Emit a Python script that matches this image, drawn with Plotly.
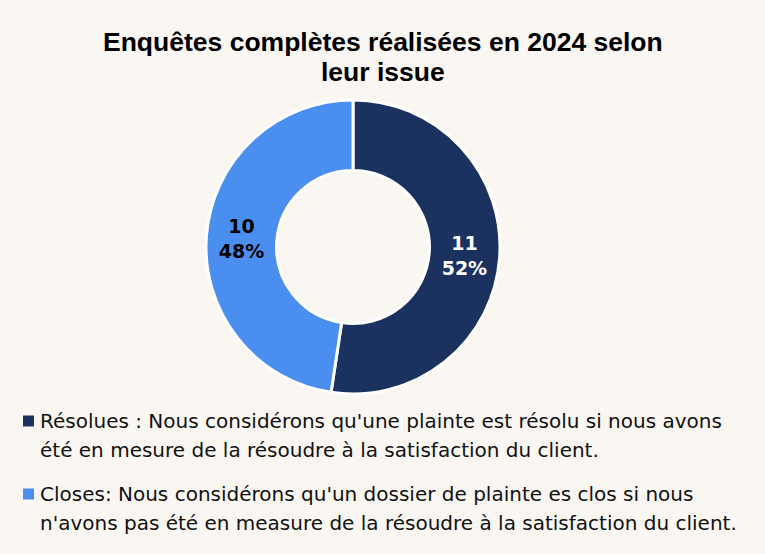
import plotly.graph_objects as go

# ---- data ----
categories = ["Résolues", "Closes"]
values = [11, 10]
colors = ["#1B3160", "#4A8FF0"]
text_colors = ["#FFFFFF", "#000000"]
title_lines = ["Enquêtes complètes réalisées en 2024 selon", "leur issue"]
legend_lines = [
    ["Résolues : Nous considérons qu'une plainte est résolu si nous avons",
     "été en mesure de la résoudre à la satisfaction du client."],
    ["Closes: Nous considérons qu'un dossier de plainte es clos si nous",
     "n'avons pas été en measure de la résoudre à la satisfaction du client."],
]

W, H = 765, 554
BG = "#FAF7F3"

fig = go.Figure()
fig.add_trace(go.Pie(
    labels=categories,
    values=values,
    hole=0.52,
    sort=False,
    direction="clockwise",
    rotation=0,
    marker=dict(colors=colors, line=dict(color="white", width=3)),
    texttemplate="<b>%{value}</b><br><b>%{percent:.0%}</b>",
    textposition="inside",
    insidetextorientation="horizontal",
    textfont=dict(family="DejaVu Sans, sans-serif", size=19, color=text_colors),
    domain=dict(x=[(353 - 147) / W, (353 + 147) / W],
                y=[(H - 247 - 147) / H, (H - 247 + 147) / H]),
    showlegend=False,
    hoverinfo="label+value+percent",
))

annotations = []
shapes = []

# title (two centred bold lines)
title_y = [42, 72]
for ln, ty in zip(title_lines, title_y):
    annotations.append(dict(
        text="<b>" + ln + "</b>", xref="paper", yref="paper",
        x=0.5, y=1 - ty / H, xanchor="center", yanchor="middle", showarrow=False,
        font=dict(family="Liberation Sans, Arial, sans-serif", size=26.5, color="#000000"),
    ))

# custom legend (square markers + wrapped text)
entry_tops = [421, 494]
line_gap = 29
for i, (lines, col) in enumerate(zip(legend_lines, colors)):
    y0 = entry_tops[i]
    shapes.append(dict(type="rect", xref="paper", yref="paper",
                       x0=23 / W, x1=34 / W,
                       y0=1 - (y0 + 5.5) / H, y1=1 - (y0 - 5.5) / H,
                       fillcolor=col, line=dict(width=0)))
    for j, ln in enumerate(lines):
        annotations.append(dict(
            text=ln, xref="paper", yref="paper",
            x=38 / W, y=1 - (y0 + j * line_gap) / H,
            xanchor="left", yanchor="middle", showarrow=False,
            font=dict(family="DejaVu Sans, sans-serif", size=20, color="#111111"),
        ))

fig.update_layout(
    width=W, height=H,
    margin=dict(l=0, r=0, t=0, b=0),
    paper_bgcolor=BG, plot_bgcolor=BG,
    annotations=annotations,
    shapes=shapes,
)

fig.write_html(
    "out.html",
    config=dict(displayModeBar=False),
    post_script="document.body.style.margin='0';document.body.style.background='" + BG + "';",
)
